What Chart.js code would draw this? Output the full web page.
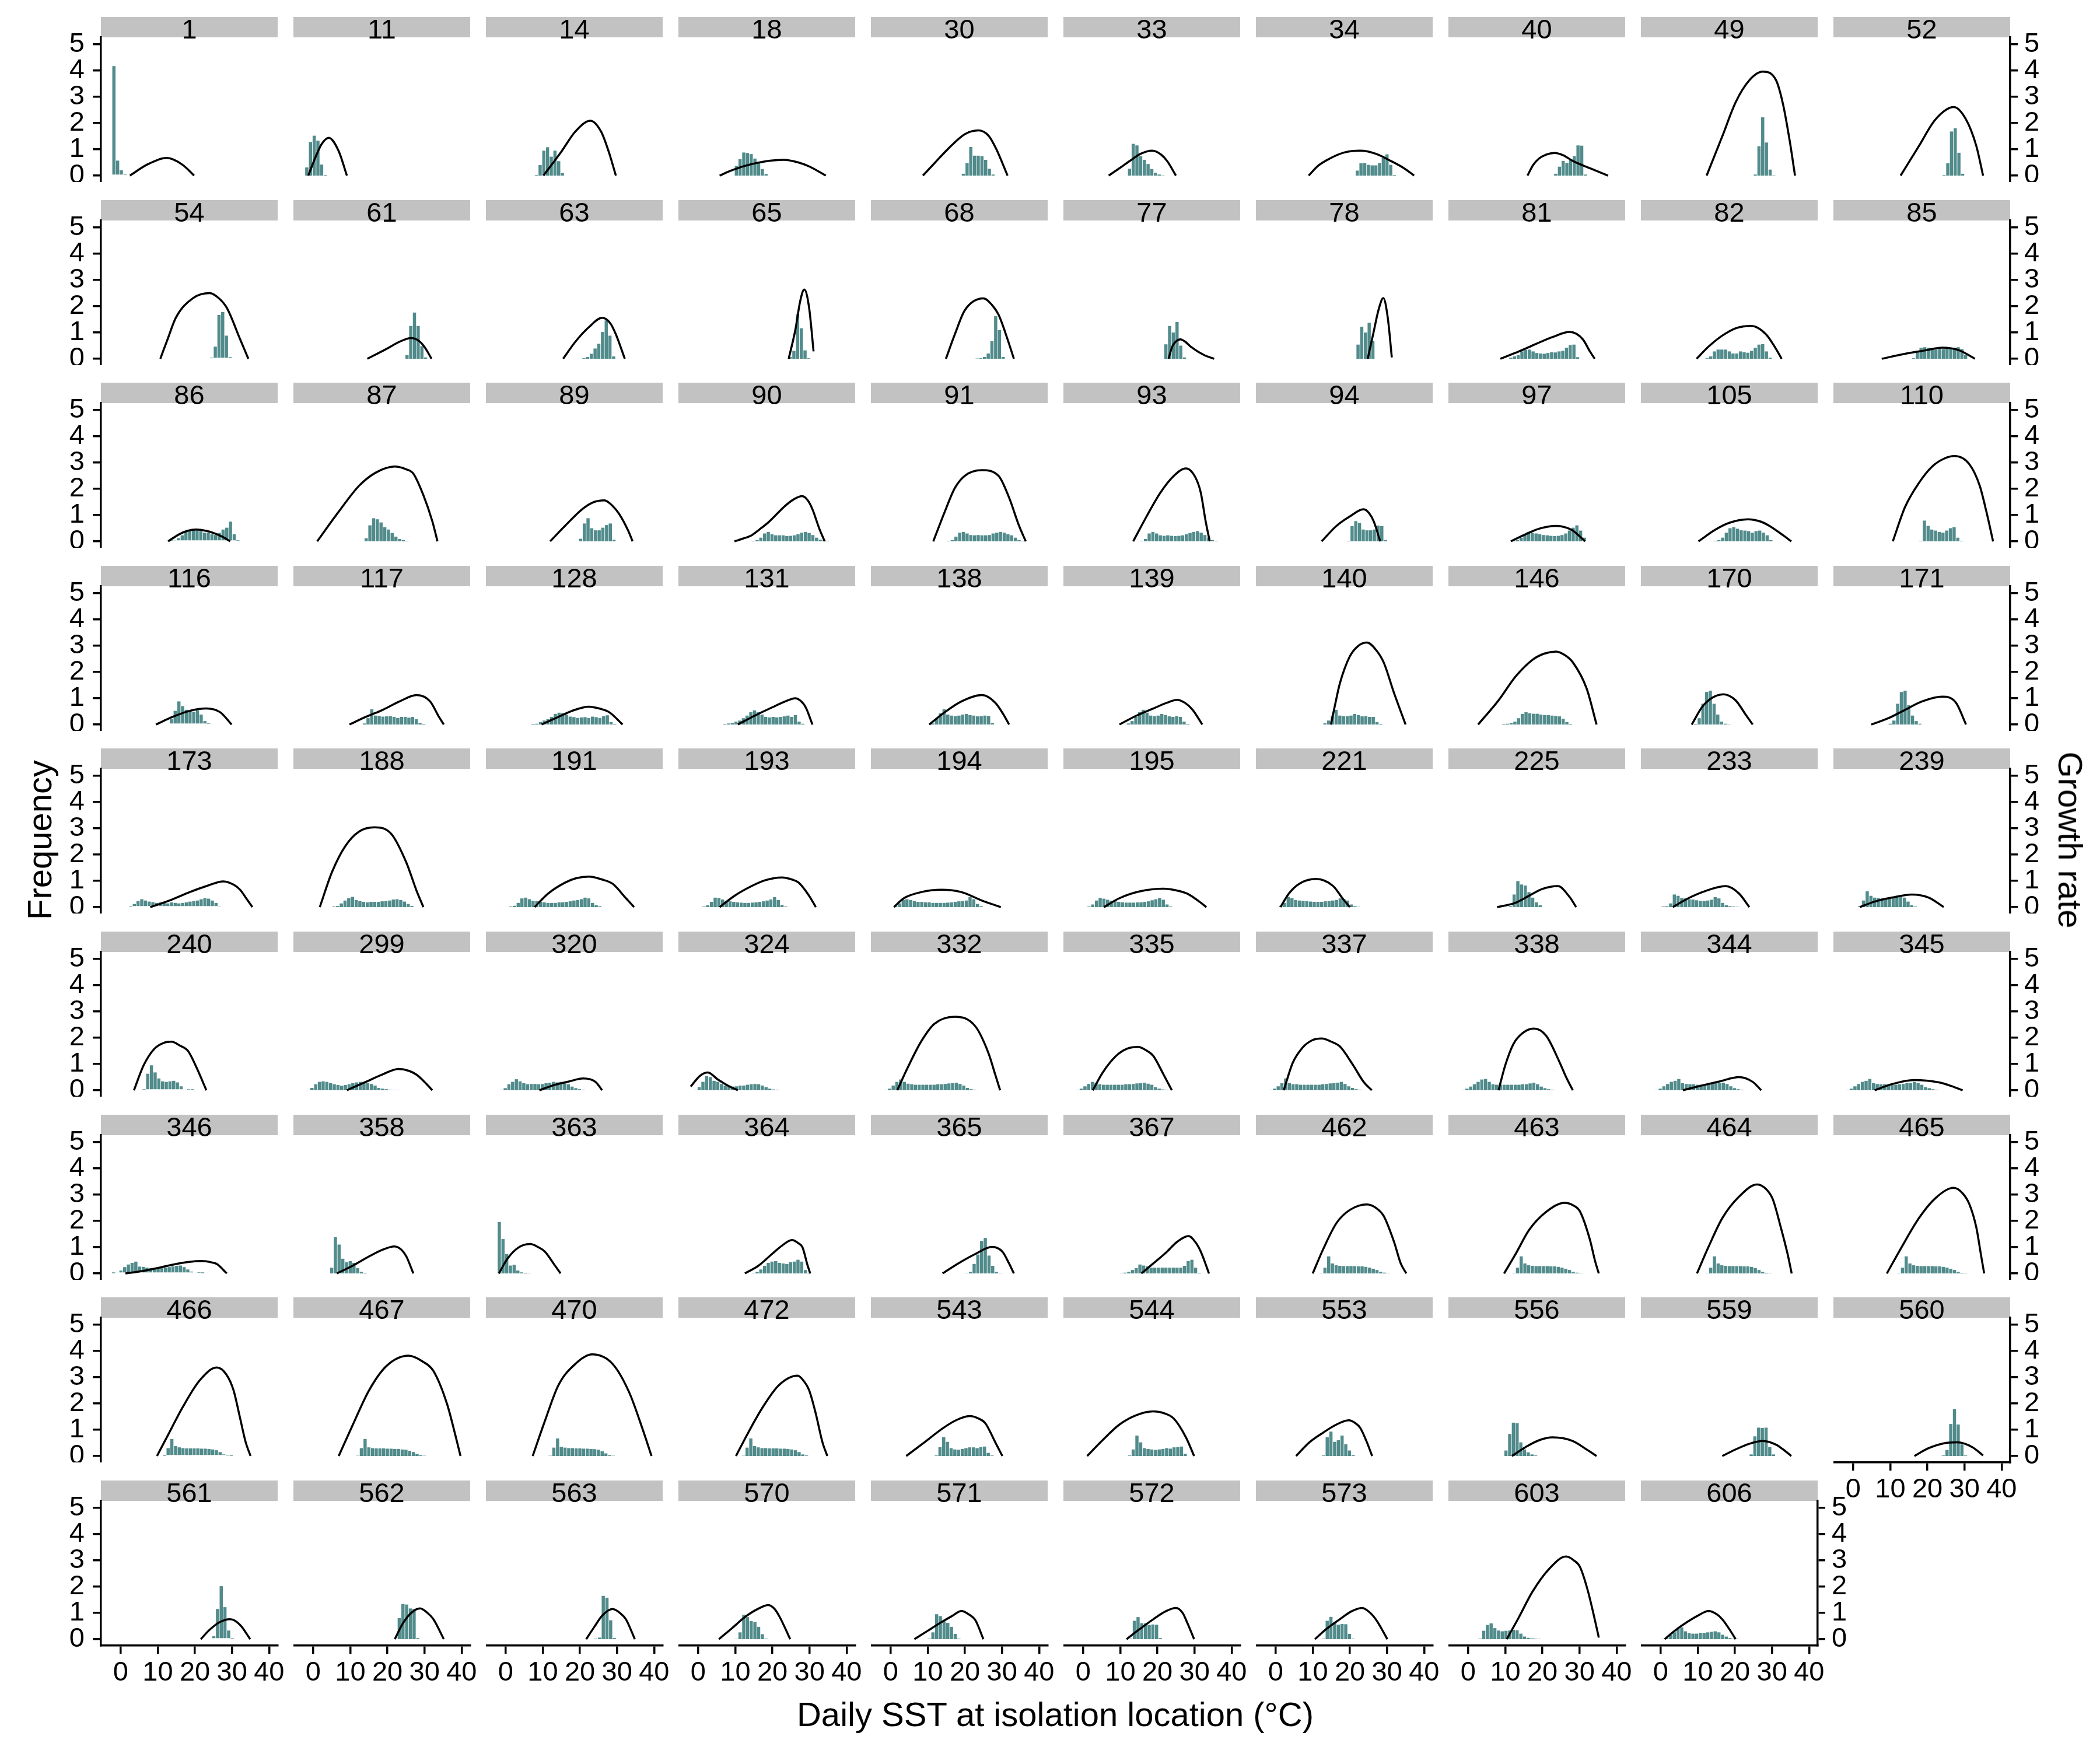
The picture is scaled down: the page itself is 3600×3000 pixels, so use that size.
<!DOCTYPE html>
<html><head><meta charset="utf-8">
<script src="https://cdn.jsdelivr.net/npm/chart.js@4.4.1/dist/chart.umd.min.js"></script>
<style>
html,body{margin:0;padding:0;background:#fff;}
body{width:3600px;height:3000px;position:relative;overflow:hidden;font-family:"Liberation Sans",Arial,sans-serif;}
.strip{position:absolute;background:#c2c2c2;}
.slab{position:absolute;text-align:center;font-size:47px;line-height:35px;color:#000;white-space:nowrap;}
canvas{position:absolute;display:block;}
.title{position:absolute;font-size:58px;line-height:58px;color:#000;white-space:nowrap;}
</style></head><body>
<script>
// ---------------- data ----------------
const isolates = [1,11,14,18,30,33,34,40,49,52, 54,61,63,65,68,77,78,81,82,85,
  86,87,89,90,91,93,94,97,105,110, 116,117,128,131,138,139,140,146,170,171,
  173,188,191,193,194,195,221,225,233,239, 240,299,320,324,332,335,337,338,344,345,
  346,358,363,364,365,367,462,463,464,465, 466,467,470,472,543,544,553,556,559,560,
  561,562,563,570,571,572,573,603,606];

// centre (°C) of the first 1 °C histogram bin of each isolate
const binStart = [-1.8,-1.7,8.3,10.3,19.6,12.5,22,23.6,25.5,24.5,
  24.5,25.3,21.1,24.8,23.3,22.3,22.2,11.5,12.5,16.3,
  13.6,14.3,20.2,14.9,15.6,15.8,19.6,12.3,14.7,18.2,
  12.7,13.8,7.4,7.2,11.4,12.2,13.3,9.6,9.4,10.0,
  2.7,5.6,1.4,1.6,1.4,1.6,1.4,11.4,0.7,1.8,
  6.3,-1.3,-1.1,-0.7,-1.3,-1.5,-1.3,-1.3,-1.1,-1.5,
  -1.9,5.0,-1.7,14.9,20.5,10.3,12.3,12.3,12.5,12.3,
  11.8,12.0,12.0,12.2,12.3,12.5,12.9,10.2,24.4,24.3,
  25.1,23.2,24.3,10.3,10.4,12.8,12.9,3.2,0.7];

// histogram frequencies (daily SST), one bin per °C
const binFreq = [
 [4.17,0.57,0.2,0.02],
 [0.31,1.28,1.52,1.33,0.42,0.02],
 [0.02,0.4,0.95,1.08,0.72,0.95,0.55,0.1],
 [0.37,0.63,0.88,0.86,0.82,0.65,0.47,0.25,0.06],
 [0.07,0.48,1.09,0.76,0.76,0.74,0.6,0.26,0.04],
 [0.26,1.21,1.15,0.74,0.6,0.44,0.25,0.11,0.04,0.01],
 [0.19,0.47,0.48,0.41,0.39,0.39,0.48,0.67,0.81,0.41,0.02],
 [0.07,0.34,0.56,0.48,0.6,0.74,1.15,1.14,0.04],
 [0.04,1.12,2.22,1.26,0.23,0.01],
 [0.02,0.47,1.68,1.8,0.87,0.07],
 [0.02,0.46,1.67,1.78,0.88,0.07],
 [0.14,1.25,1.76,1.25,0.48,0.05],
 [0.02,0.07,0.19,0.39,0.57,1.02,1.46,0.88,0.09],
 [0.07,0.3,1.71,1.16,0.32,0.02],
 [0.01,0.02,0.07,0.2,0.67,1.62,1.09,0.07],
 [0.55,1.25,1.0,1.4,0.5,0.05],
 [0.54,1.22,1.0,1.37,0.67],
 [0.04,0.09,0.14,0.28,0.34,0.35,0.28,0.22,0.2,0.19,0.22,0.25,0.24,0.28,0.3,0.42,0.52,0.54,0.06],
 [0.02,0.09,0.28,0.35,0.35,0.35,0.28,0.2,0.2,0.28,0.25,0.23,0.3,0.42,0.54,0.56,0.28,0.04],
 [0.02,0.28,0.42,0.44,0.42,0.37,0.35,0.37,0.37,0.39,0.39,0.42,0.44,0.37,0.15],
 [0.02,0.05,0.12,0.23,0.36,0.41,0.45,0.43,0.39,0.33,0.32,0.27,0.24,0.32,0.45,0.52,0.75,0.27,0.02],
 [0.12,0.61,0.88,0.84,0.72,0.54,0.45,0.32,0.18,0.09,0.05,0.02],
 [0.1,0.68,0.88,0.5,0.42,0.42,0.52,0.62,0.68,0.06],
 [0.02,0.05,0.14,0.3,0.36,0.27,0.23,0.23,0.23,0.2,0.21,0.23,0.27,0.33,0.36,0.32,0.24,0.14,0.06,0.04,0.02],
 [0.02,0.05,0.18,0.33,0.36,0.3,0.24,0.23,0.24,0.23,0.23,0.24,0.3,0.33,0.36,0.33,0.27,0.23,0.14,0.05,0.02],
 [0.02,0.09,0.3,0.36,0.3,0.23,0.21,0.23,0.21,0.2,0.21,0.23,0.27,0.32,0.36,0.39,0.33,0.24,0.14,0.05,0.02],
 [0.02,0.58,0.77,0.7,0.45,0.42,0.42,0.45,0.6,0.58,0.05],
 [0.02,0.05,0.14,0.27,0.36,0.33,0.3,0.27,0.24,0.23,0.21,0.2,0.21,0.24,0.3,0.41,0.52,0.61,0.41,0.14],
 [0.02,0.05,0.14,0.33,0.5,0.54,0.48,0.42,0.41,0.39,0.33,0.39,0.41,0.33,0.23,0.05],
 [0.02,0.79,0.59,0.45,0.41,0.36,0.33,0.41,0.5,0.54,0.14,0.02],
 [0.04,0.2,0.52,0.88,0.7,0.56,0.52,0.49,0.54,0.38,0.13,0.02],
 [0.04,0.24,0.58,0.34,0.33,0.3,0.31,0.32,0.29,0.25,0.29,0.29,0.26,0.29,0.2,0.06,0.02],
 [0.02,0.03,0.09,0.15,0.2,0.29,0.4,0.45,0.43,0.38,0.3,0.28,0.25,0.27,0.28,0.25,0.3,0.28,0.25,0.32,0.35,0.09,0.02],
 [0.02,0.04,0.06,0.11,0.15,0.24,0.34,0.47,0.54,0.47,0.38,0.29,0.27,0.29,0.27,0.29,0.31,0.34,0.29,0.36,0.11,0.03],
 [0.04,0.2,0.43,0.58,0.38,0.34,0.32,0.34,0.38,0.4,0.36,0.34,0.31,0.32,0.34,0.33,0.06],
 [0.04,0.13,0.29,0.47,0.56,0.45,0.34,0.32,0.34,0.4,0.36,0.31,0.29,0.32,0.29,0.11,0.02],
 [0.05,0.15,0.34,0.56,0.34,0.32,0.32,0.34,0.4,0.36,0.31,0.32,0.29,0.29,0.09,0.02],
 [0.02,0.03,0.06,0.11,0.24,0.4,0.47,0.43,0.41,0.41,0.38,0.36,0.36,0.34,0.33,0.31,0.22,0.09,0.02],
 [0.02,0.24,0.79,1.24,1.29,0.79,0.38,0.11,0.03,0.01],
 [0.03,0.15,0.79,1.24,1.29,0.74,0.34,0.13,0.03],
 [0.02,0.12,0.23,0.3,0.25,0.21,0.19,0.16,0.18,0.16,0.14,0.18,0.16,0.14,0.16,0.18,0.21,0.23,0.25,0.3,0.34,0.32,0.25,0.16,0.03],
 [0.02,0.04,0.14,0.25,0.34,0.39,0.27,0.23,0.2,0.18,0.2,0.2,0.2,0.22,0.23,0.25,0.29,0.3,0.27,0.21,0.12,0.04],
 [0.02,0.05,0.16,0.33,0.36,0.3,0.24,0.23,0.2,0.18,0.16,0.16,0.16,0.18,0.18,0.2,0.22,0.25,0.27,0.3,0.36,0.33,0.16,0.07,0.03],
 [0.02,0.07,0.2,0.36,0.35,0.29,0.23,0.22,0.2,0.18,0.17,0.16,0.16,0.17,0.18,0.2,0.22,0.25,0.29,0.38,0.27,0.08,0.02],
 [0.04,0.14,0.27,0.3,0.27,0.23,0.2,0.2,0.18,0.18,0.16,0.16,0.16,0.16,0.17,0.18,0.2,0.22,0.23,0.25,0.38,0.3,0.12,0.03],
 [0.02,0.1,0.25,0.35,0.32,0.28,0.24,0.22,0.2,0.18,0.17,0.17,0.17,0.18,0.18,0.2,0.22,0.26,0.3,0.35,0.28,0.1,0.02],
 [0.05,0.16,0.39,0.34,0.27,0.25,0.24,0.23,0.21,0.2,0.2,0.2,0.22,0.23,0.25,0.27,0.33,0.3,0.25,0.1,0.03,0.01],
 [0.03,0.48,0.99,0.86,0.82,0.57,0.36,0.18,0.07],
 [0.02,0.03,0.14,0.48,0.43,0.35,0.33,0.3,0.29,0.26,0.24,0.23,0.25,0.28,0.38,0.33,0.16,0.07,0.03,0.02,0.01],
 [0.03,0.25,0.6,0.43,0.36,0.34,0.33,0.3,0.34,0.34,0.41,0.45,0.36,0.21,0.07,0.02],
 [0.02,0.63,0.95,0.68,0.45,0.34,0.32,0.34,0.36,0.3,0.15,0.04,0.02,0.01],
 [0.01,0.09,0.23,0.32,0.34,0.32,0.27,0.23,0.2,0.17,0.2,0.23,0.27,0.3,0.32,0.3,0.27,0.24,0.18,0.09,0.06,0.04,0.02,0.01,0.01],
 [0.01,0.08,0.23,0.32,0.42,0.34,0.27,0.23,0.24,0.24,0.23,0.24,0.27,0.29,0.32,0.3,0.32,0.3,0.23,0.14,0.08,0.04,0.02],
 [0.01,0.12,0.32,0.54,0.5,0.36,0.32,0.24,0.18,0.15,0.14,0.15,0.18,0.18,0.21,0.23,0.24,0.23,0.18,0.12,0.06,0.03,0.02],
 [0.01,0.06,0.18,0.32,0.41,0.32,0.25,0.23,0.21,0.21,0.21,0.21,0.21,0.21,0.23,0.23,0.24,0.26,0.27,0.29,0.24,0.18,0.09,0.04,0.02],
 [0.01,0.06,0.15,0.24,0.32,0.28,0.23,0.21,0.21,0.21,0.21,0.21,0.21,0.23,0.23,0.24,0.26,0.27,0.29,0.25,0.21,0.12,0.06,0.03,0.02],
 [0.01,0.06,0.15,0.27,0.45,0.27,0.23,0.23,0.21,0.21,0.21,0.21,0.21,0.21,0.23,0.24,0.26,0.27,0.29,0.32,0.24,0.15,0.09,0.04,0.02],
 [0.01,0.06,0.14,0.23,0.32,0.41,0.43,0.32,0.23,0.21,0.21,0.21,0.21,0.21,0.21,0.21,0.23,0.23,0.26,0.29,0.23,0.14,0.08,0.04,0.02],
 [0.01,0.06,0.15,0.24,0.32,0.36,0.43,0.27,0.24,0.23,0.23,0.21,0.21,0.21,0.23,0.24,0.27,0.27,0.29,0.24,0.15,0.08,0.04,0.02],
 [0.01,0.06,0.15,0.24,0.32,0.36,0.43,0.27,0.24,0.23,0.23,0.21,0.21,0.21,0.23,0.24,0.27,0.27,0.32,0.27,0.21,0.12,0.08,0.04,0.02],
 [0.01,0.04,0.11,0.24,0.34,0.4,0.45,0.26,0.25,0.22,0.2,0.2,0.22,0.22,0.22,0.24,0.27,0.29,0.3,0.24,0.15,0.07,0.04,0.02,0.01],
 [0.22,1.38,1.1,0.56,0.43,0.47,0.4,0.2,0.06,0.02],
 [1.96,1.31,0.74,0.3,0.33,0.11,0.04,0.02,0.01],
 [0.01,0.06,0.15,0.29,0.4,0.45,0.47,0.4,0.38,0.36,0.43,0.45,0.52,0.45,0.13,0.02],
 [0.01,0.06,0.36,0.72,1.24,1.35,0.68,0.29,0.06,0.01],
 [0.01,0.03,0.06,0.13,0.2,0.34,0.3,0.27,0.22,0.22,0.22,0.22,0.22,0.22,0.22,0.22,0.22,0.29,0.47,0.52,0.22,0.02],
 [0.01,0.22,0.65,0.38,0.31,0.29,0.28,0.28,0.28,0.28,0.27,0.27,0.25,0.22,0.18,0.13,0.06,0.03,0.01],
 [0.01,0.22,0.65,0.38,0.31,0.29,0.28,0.28,0.28,0.28,0.27,0.27,0.25,0.22,0.18,0.13,0.06,0.03,0.01],
 [0.01,0.22,0.65,0.38,0.31,0.29,0.28,0.28,0.28,0.28,0.27,0.27,0.25,0.2,0.13,0.06,0.02,0.01],
 [0.01,0.22,0.65,0.38,0.31,0.29,0.28,0.28,0.28,0.28,0.27,0.27,0.25,0.22,0.18,0.13,0.06,0.02,0.01],
 [0.01,0.3,0.65,0.38,0.33,0.3,0.29,0.29,0.29,0.29,0.28,0.28,0.27,0.25,0.22,0.15,0.06,0.02,0.01],
 [0.01,0.3,0.65,0.33,0.3,0.29,0.29,0.29,0.28,0.28,0.27,0.27,0.25,0.24,0.2,0.15,0.08,0.03,0.01],
 [0.01,0.32,0.67,0.35,0.32,0.3,0.3,0.29,0.29,0.28,0.28,0.27,0.26,0.24,0.18,0.1,0.03,0.01],
 [0.01,0.32,0.67,0.38,0.33,0.3,0.3,0.29,0.29,0.29,0.28,0.28,0.27,0.25,0.22,0.15,0.06,0.02],
 [0.02,0.34,0.72,0.54,0.3,0.25,0.24,0.27,0.3,0.33,0.33,0.3,0.34,0.36,0.12,0.02],
 [0.02,0.25,0.78,0.52,0.3,0.27,0.25,0.23,0.25,0.27,0.3,0.28,0.33,0.34,0.36,0.09],
 [0.02,0.72,0.93,0.54,0.6,0.78,0.45,0.21,0.03],
 [0.21,0.84,1.27,1.25,0.52,0.25,0.14,0.06,0.02],
 [0.06,0.75,1.08,1.07,1.08,0.34,0.06],
 [0.02,0.23,1.22,1.79,1.2,0.44,0.02],
 [0.11,1.15,2.02,1.22,0.33,0.02],
 [0.8,1.34,1.32,1.17,1.15,0.04],
 [0.02,0.06,1.65,1.58,0.72,0.04],
 [0.01,0.26,0.93,0.84,0.69,0.65,0.47,0.19,0.02],
 [0.02,0.26,0.95,0.88,0.68,0.62,0.47,0.2,0.02],
 [0.02,0.7,0.84,0.61,0.6,0.54,0.56,0.55,0.04],
 [0.02,0.7,0.85,0.62,0.55,0.58,0.57,0.2,0.02],
 [0.02,0.32,0.54,0.6,0.42,0.33,0.3,0.32,0.33,0.36,0.34,0.21,0.1,0.05,0.03,0.02,0.01],
 [0.01,0.05,0.16,0.26,0.41,0.45,0.3,0.23,0.21,0.21,0.24,0.24,0.26,0.28,0.3,0.26,0.17,0.1,0.04,0.02,0.01]
];

// thermal performance curve: temperatures (°C) and growth rates
const tpcTemp = [
 [2.5,7.3,12.5,16.7,19.8],
 [-1.3,0.5,2.3,4.2,6.9,9.1],
 [10.2,15.1,18.8,22.8,25.7,27.8,29.7],
 [5.8,8.9,12.6,18,23.1,27,29.9,34.4],
 [8.7,12,15.5,20,23.7,26.5,28.5,31.5],
 [6.9,10,12.6,15.5,18.6,21,22.6,25],
 [8.9,11.5,14.6,18.5,22.8,27,31,34.6,37.3],
 [16,17.5,19.1,21,23.3,25.5,28.2,32.8,37.7],
 [12.4,16.6,20.2,23.9,27.5,31.1,33,34.8,36.2],
 [12.8,17.7,22.2,27.1,30.4,33.2,35],
 [10.7,12.8,14.9,19.5,24,26.5,28.6,32.2,34.4],
 [14.6,19.7,23.3,26.4,28.5,30,31.9],
 [15.5,18.8,22.4,26,28.2,29.7,32.1],
 [24.4,26.2,27.5,28.6,29.9,31.1],
 [14.9,17.3,20,25,27.3,29.1,31.5,33.2],
 [23,24,25,26.2,27.5,29,32.6,35.3],
 [24.8,26.4,27.7,29,30.2,31.3],
 [8.7,13.7,18.2,22.8,27.3,30.9,32.8,34.1],
 [9.7,12.9,16.6,20.2,24.4,28.4,31.1,32.6],
 [7.7,14,19.5,24,28.6,32.8],
 [12.8,15.8,18,20.4,23,25,27.5,29.5],
 [1.1,6.9,12.4,16.9,21.9,25,27,29.7,32.1,33.5],
 [12,16,20.6,23.5,26.6,28.8,30.6,33,34.2],
 [9.8,12,14.4,16.5,18.9,23.5,26,28,29.6,30.8,32.6,34.1],
 [11.5,14.6,17.3,20,24.6,29.1,31.9,34.6,36.4],
 [13.5,17.1,20.8,24.4,27.7,30.2,31.7,33,34.1],
 [12.4,16.4,20,23.7,25.2,26.4,28.2],
 [11.5,15.5,19.1,23.7,26.5,28.2,31.5],
 [10.2,14.8,18.4,23.5,27,29.3,33,35.2],
 [10.7,14,17.7,21.3,24.5,27.3,31.3,34.1,35.9,37.7],
 [9.5,14,18.6,23.1,26.8,29.9],
 [9.8,14.2,18.8,23.3,27.9,31.5,33.9,35.2],
 [9.7,14.2,17.9,22.4,25.5,27.9,31.5],
 [10.7,15.3,19.9,23.5,26.2,28,29,30.8],
 [10.4,14.6,19.1,24.6,28.2,30.4,31.9],
 [9.8,14.4,18.9,22.6,25.3,27.5,29.5,32.1],
 [14.9,16,17.3,20,22.3,24.6,27,29.1,31.9,35],
 [2.7,8.2,12.8,17.3,20.5,23.7,26,28.2,31.9,34.6],
 [8.4,11.1,13.8,16.9,20.2,22.9,24.8],
 [4.9,9.5,14,18.6,24,27.7,30.4],
 [8,13.1,18.6,23.1,27.7,30.5,32.2,34,35.5],
 [1.8,5.1,8.7,12.4,16.6,21.1,25.1,27.9,29.7],
 [7.8,11.5,16,19,22.4,26,28.8,32.4,34.6],
 [5.8,9.8,14.4,18,22.6,25.3,27.1,29.9,31.7],
 [0.9,3.6,8.2,13.7,19.1,24.6,29.7],
 [5.6,9.8,15.3,21.7,25,28.1,31.3,33.2],
 [1.3,3.6,6.4,10.9,15.5,18.2,20],
 [7.8,12.7,16.4,20,24.2,27.3,29.1],
 [3.3,7.5,12,17.5,21.1,23.9],
 [1.8,5.8,10.4,15.8,20.4,24.4],
 [3.6,6.2,9.1,11.5,13.7,16,18.2,20.5,23.1],
 [9.1,14.2,18.8,23,25.8,27.9,30.6,32.1],
 [9.1,13.3,16.9,20.9,24.2,26],
 [-2,0.5,2.6,5.3,8,10.7],
 [1.8,4.6,8.2,11.8,17.3,22.8,26.4,28.2,29.5],
 [2.6,5.3,8.9,11.8,14.8,17,18.9,21.7,23.9],
 [2.2,4.6,7.3,9.8,12.4,15,17.3,20.9,23.7,25.9],
 [8.2,10,12.2,14.6,17.7,21,24.6,26.4,28.2],
 [6,11.1,15.7,21.1,24.8,27.1],
 [5.8,10.4,16.4,23.1,26.5,29.5],
 [1.3,5.8,10.4,15,18.5,21.9,24.5,25.9,28.6],
 [6.4,10.6,15.1,18.8,21.9,23.8,25.1,27],
 [-1.8,0.5,3.3,6.6,8.8,10.6,12.9,14.8],
 [12.6,16.2,19.9,22.6,25.3,27,28.1,29.5,30.2],
 [14,18.2,22.8,27.3,30.1,31.9,33.2],
 [15.7,18.9,22.6,25.3,28.4,30.2,31.7,33.9],
 [10,12.8,16.4,20,24.6,27,29.1,31.9,33.7,35.2],
 [9.7,12.8,16.4,20.9,26,28.5,30.1,32.8,34.2,35.2],
 [9.8,12.9,16.6,21.1,26,28.5,30.2,32.4,34.2,35.3],
 [9.1,13.1,17.7,22.2,27.1,29.5,31.3,33.2,34.4,35.3],
 [9.8,13.1,16.8,21.3,25.9,28.5,30.4,32.2,33.7,35],
 [6.9,10.6,15.1,19.7,25.7,29.5,32.4,36.1,38.3,39.7],
 [7.3,10.6,14.2,18.8,23.3,28.8,33.3,37,39.3],
 [10.2,13.5,17.1,21.7,26.8,28.5,29.9,31.7,33.5,34.8],
 [4.2,9.1,13.7,17.3,21.3,23.8,25.5,28.2,30.1],
 [1.1,5.3,9.8,14.4,18.9,22,24.4,27.7,29.9],
 [5.5,9.1,12.8,16.4,19.7,21.5,22.8,24.6,26],
 [11.8,15.5,19.1,22.8,28.2,31.9,34.6],
 [16.6,20.2,24,27.5,31.1,33,35.2],
 [16.5,20.2,24.3,28,32.2,35],
 [21.6,24,26.7,29.5,32.2,34.9],
 [22,24.2,26.6,28.8,30.8,32.4,35.2],
 [21.7,23.9,26.1,28.8,30.8,32.4,34.8],
 [5.6,8.9,12.6,15.8,18.9,20.6,22,24.8],
 [6.4,10,13.7,16.4,19.1,21,22.8,25],
 [11.7,15.3,18.9,22.2,25,26.8,28.1,29.9],
 [10.6,13.7,17.3,20.4,23.3,25.5,27.3,30.1],
 [10.4,13.7,17.3,21.9,26.4,28.5,30.1,32.2,34.1,35.2],
 [1.1,3.8,7.1,10.2,12.9,15,16.6,18.8,20.2]
];
const tpcRate = [
 [0,0.43,0.67,0.41,0],
 [0,0.65,1.2,1.44,0.93,0],
 [0,0.93,1.68,2.09,1.68,0.9,0],
 [0,0.19,0.37,0.54,0.6,0.5,0.35,0],
 [0,0.5,1.02,1.58,1.72,1.5,1.0,0],
 [0,0.3,0.56,0.83,0.95,0.8,0.56,0],
 [0,0.38,0.65,0.88,0.95,0.83,0.56,0.28,0],
 [0,0.4,0.65,0.8,0.86,0.78,0.56,0.28,0],
 [0,1.49,2.79,3.63,3.96,3.63,2.7,1.3,0],
 [0,1.12,2.14,2.61,2.14,1.12,0],
 [0,0.8,1.57,2.31,2.5,2.3,1.94,0.74,0],
 [0,0.37,0.65,0.79,0.68,0.45,0],
 [0,0.65,1.2,1.56,1.35,0.93,0],
 [0,1.11,2.2,2.64,1.94,0.28],
 [0,0.93,1.85,2.3,2.05,1.67,0.74,0],
 [0,0.46,0.66,0.74,0.65,0.46,0.14,0],
 [0,1.02,1.85,2.31,1.57,0.05],
 [0,0.28,0.56,0.83,1.02,0.74,0.28,0],
 [0,0.46,0.88,1.16,1.25,0.93,0.37,0],
 [0,0.19,0.32,0.42,0.32,0],
 [0,0.27,0.4,0.45,0.4,0.32,0.17,0],
 [0,1.13,2.12,2.62,2.85,2.75,2.58,1.76,0.77,0],
 [0,0.59,1.22,1.48,1.56,1.35,1.04,0.41,0],
 [0,0.1,0.23,0.45,0.72,1.36,1.62,1.72,1.55,1.22,0.5,0],
 [0,1.13,2.03,2.5,2.71,2.49,1.67,0.59,0],
 [0,0.95,1.85,2.49,2.78,2.45,1.85,0.77,0],
 [0,0.59,0.95,1.22,1.07,0.77,0],
 [0,0.27,0.48,0.59,0.52,0.41,0],
 [0,0.45,0.7,0.84,0.75,0.59,0.23,0],
 [0,1.31,2.22,2.85,3.15,3.25,2.94,2.12,1.13,0],
 [0,0.29,0.52,0.61,0.47,0],
 [0,0.29,0.56,0.88,1.12,0.88,0.29,0],
 [0,0.29,0.52,0.68,0.6,0.47,0],
 [0,0.34,0.65,0.88,1.0,0.85,0.65,0],
 [0,0.47,0.88,1.12,0.83,0.38,0],
 [0,0.34,0.61,0.83,0.94,0.82,0.56,0],
 [0,0.74,1.56,2.6,3.0,3.12,2.85,2.37,1.2,0],
 [0,0.92,1.83,2.46,2.7,2.78,2.65,2.37,1.38,0],
 [0,0.65,1.01,1.15,0.92,0.38,0],
 [0,0.24,0.56,0.88,1.06,0.83,0],
 [0,0.25,0.57,0.8,0.98,0.85,0.66,0.3,0],
 [0,1.34,2.33,2.88,3.04,2.78,1.7,0.61,0],
 [0,0.52,0.93,1.1,1.16,1.05,0.89,0.34,0],
 [0,0.43,0.8,1.02,1.13,1.05,0.93,0.43,0],
 [0,0.34,0.57,0.66,0.57,0.25,0],
 [0,0.34,0.6,0.7,0.64,0.51,0.21,0],
 [0,0.52,0.89,1.07,0.8,0.3,0],
 [0,0.16,0.43,0.69,0.8,0.39,0],
 [0,0.34,0.61,0.8,0.52,0],
 [0,0.21,0.36,0.48,0.36,0],
 [0,0.95,1.58,1.8,1.85,1.7,1.49,0.85,0],
 [0,0.32,0.61,0.81,0.74,0.59,0.23,0],
 [0,0.21,0.33,0.45,0.32,0],
 [0.14,0.55,0.68,0.41,0.18,0],
 [0,0.86,1.85,2.53,2.8,2.44,1.4,0.59,0],
 [0,0.68,1.31,1.58,1.65,1.52,1.31,0.59,0],
 [0,1.04,1.63,1.9,1.97,1.85,1.67,0.95,0.32,0],
 [0,0.95,1.76,2.17,2.35,2.08,1.08,0.5,0],
 [0,0.18,0.33,0.5,0.32,0],
 [0,0.23,0.39,0.3,0.16,0],
 [0,0.09,0.22,0.36,0.44,0.47,0.42,0.36,0],
 [0,0.29,0.65,0.91,1.03,0.9,0.65,0],
 [0,0.56,0.97,1.12,1.0,0.83,0.38,0],
 [0,0.29,0.74,1.06,1.27,1.15,1.0,0.3,0],
 [0,0.38,0.74,1.01,0.83,0.38,0],
 [0,0.38,0.83,1.2,1.42,1.2,0.83,0],
 [0,0.92,1.92,2.42,2.63,2.5,2.19,1.2,0.38,0],
 [0,0.74,1.65,2.33,2.69,2.58,2.37,1.29,0.47,0],
 [0,1.01,2.1,2.92,3.39,3.2,2.83,1.74,0.74,0],
 [0,1.01,2.1,2.87,3.26,3.05,2.64,1.74,0.74,0],
 [0,0.89,1.88,2.88,3.37,3.1,2.51,1.43,0.52,0],
 [0,1.16,2.51,3.42,3.82,3.6,3.24,1.97,0.8,0],
 [0,1.34,2.69,3.51,3.87,3.51,2.42,0.98,0],
 [0,0.89,1.79,2.69,3.06,2.85,2.51,1.61,0.52,0],
 [0,0.52,1.02,1.34,1.52,1.42,1.25,0.52,0],
 [0,0.61,1.2,1.56,1.7,1.62,1.43,0.71,0],
 [0,0.52,0.89,1.2,1.36,1.25,1.07,0.52,0],
 [0,0.34,0.6,0.71,0.57,0.25,0],
 [0,0.25,0.47,0.57,0.43,0.25,0],
 [0,0.29,0.48,0.52,0.33,0.02],
 [0,0.36,0.65,0.76,0.54,0],
 [0,0.61,1.02,1.17,1.0,0.76,0],
 [0,0.47,0.91,1.15,1.0,0.76,0],
 [0,0.39,0.84,1.13,1.3,1.15,0.84,0],
 [0,0.32,0.65,0.87,1.07,0.95,0.73,0],
 [0,0.39,0.76,1.06,1.19,1.0,0.61,0],
 [0,0.39,0.76,1.06,1.19,1.0,0.69,0],
 [0,0.84,1.8,2.69,3.15,3.0,2.76,1.87,0.76,0.06],
 [0,0.32,0.65,0.91,1.07,0.96,0.76,0.32,0]
];

const xTicks = [0,10,20,30,40];
const yTicks = [0,1,2,3,4,5];
const xTitle = "Daily SST at isolation location (°C)";
const yTitleLeft = "Frequency";
const yTitleRight = "Growth rate";

// ---------------- layout ----------------
const X_MIN = -5.3, X_MAX = 42.3, Y_MIN = -0.244, Y_MAX = 5.267;
const NCOL = 10, PL = 173, PW = 303, PITCH_X = 330, ST0 = 29, PITCH_Y = 313.6, SH = 35, PH = 248;
const FONT = "'Liberation Sans', Arial, Helvetica, sans-serif";
const BAR = '#528B8B';
Chart.defaults.font.family = FONT;

function makeAxis(show, ticksArr, pad, tickLen, pos, size) {
  return {
    type: 'linear', display: show, position: pos, offset: false, bounds: 'data',
    afterBuildTicks: s => { s.ticks = ticksArr.map(v => ({ value: v })); },
    afterFit: s => {
      if (pos === 'bottom') s.height = size; else s.width = size;
      s.paddingTop = 0; s.paddingBottom = 0; s.paddingLeft = 0; s.paddingRight = 0;
    },
    border: { display: true, color: '#000', width: 3.5 },
    grid: { display: true, offset: false, drawOnChartArea: false, drawTicks: true, tickLength: tickLen,
            tickWidth: 3.5, tickColor: '#000', color: '#000', lineWidth: 3.5 },
    ticks: { color: '#000', font: { size: 47, family: FONT }, padding: pad, autoSkip: false,
             maxRotation: 0, minRotation: 0 }
  };
}

const body = document.body;
const n = isolates.length;
isolates.forEach((lab, i) => {
  const r = Math.floor(i / NCOL), c = i % NCOL;
  const isLeft = c === 0;
  const isRight = (c === NCOL - 1) || (i === n - 1);
  const isBottom = i + NCOL >= n;
  const L = PL + PITCH_X * c;
  const ST = Math.round(ST0 + PITCH_Y * r);
  const T = ST + SH;

  const strip = document.createElement('div');
  strip.className = 'strip';
  strip.style.cssText = `left:${L}px;top:${ST}px;width:${PW}px;height:${SH}px;`;
  body.appendChild(strip);

  // extra room so edge tick labels ("5", "40") are not clipped
  const extraTop = (isLeft || isRight) ? 30 : 0;
  const extraRight = (isBottom && !isRight) ? 26 : 0;
  const padL = isLeft ? 140 : 0, padR = isRight ? 130 : 0, padB = isBottom ? 90 : 0;
  const cv = document.createElement('canvas');
  cv.width = padL + PW + padR + extraRight; cv.height = PH + padB + extraTop;
  cv.style.left = (L - padL) + 'px'; cv.style.top = (T - extraTop) + 'px';
  cv.style.width = cv.width + 'px'; cv.style.height = cv.height + 'px';
  body.appendChild(cv);

  const lineData = tpcTemp[i].map((t, k) => ({ x: t, y: tpcRate[i][k] }));
  const barData = binFreq[i].map((f, k) => ({ x: +(binStart[i] + k).toFixed(2), y: f }));

  const xAx = makeAxis(isBottom, xTicks, 5, 14, 'bottom', padB);
  xAx.min = X_MIN; xAx.max = X_MAX;
  const yAx = makeAxis(isLeft, yTicks, 14, 14, 'left', padL);
  yAx.min = Y_MIN; yAx.max = Y_MAX; yAx.beginAtZero = false;
  const y2Ax = makeAxis(isRight, yTicks, 11, 13, 'right', padR);
  y2Ax.min = Y_MIN; y2Ax.max = Y_MAX; y2Ax.beginAtZero = false;

  new Chart(cv, {
    type: 'bar',
    data: { datasets: [
      { type: 'line', data: lineData, borderColor: '#000', borderWidth: 3.5, pointRadius: 0,
        cubicInterpolationMode: 'monotone', fill: false, xAxisID: 'x', yAxisID: 'y' },
      { type: 'bar', data: barData, backgroundColor: BAR, borderWidth: 0,
        barPercentage: 0.86, categoryPercentage: 1, xAxisID: 'x', yAxisID: 'y' }
    ]},
    options: {
      responsive: false, animation: false, devicePixelRatio: 1, events: [],
      layout: { padding: { top: extraTop, right: extraRight, left: 0, bottom: 0 }, autoPadding: false },
      plugins: { legend: { display: false }, tooltip: { enabled: false } },
      scales: { x: xAx, y: yAx, y2: y2Ax }
    }
  });

  const sl = document.createElement('div');
  sl.className = 'slab';
  sl.style.cssText = `left:${L}px;top:${ST + 3}px;width:${PW}px;`;
  sl.textContent = String(lab);
  body.appendChild(sl);
});

// axis titles
const tl = document.createElement('div');
tl.className = 'title'; tl.textContent = yTitleLeft;
tl.style.cssText = 'left:68px;top:1440px;transform:translate(-50%,-50%) rotate(-90deg);';
body.appendChild(tl);
const tr = document.createElement('div');
tr.className = 'title'; tr.textContent = yTitleRight;
tr.style.cssText = 'left:3549px;top:1440px;transform:translate(-50%,-50%) rotate(90deg);';
body.appendChild(tr);
const tb = document.createElement('div');
tb.className = 'title'; tb.textContent = xTitle;
tb.style.cssText = 'left:0px;width:3618px;text-align:center;top:2910px;';
body.appendChild(tb);
</script>
</body></html>
